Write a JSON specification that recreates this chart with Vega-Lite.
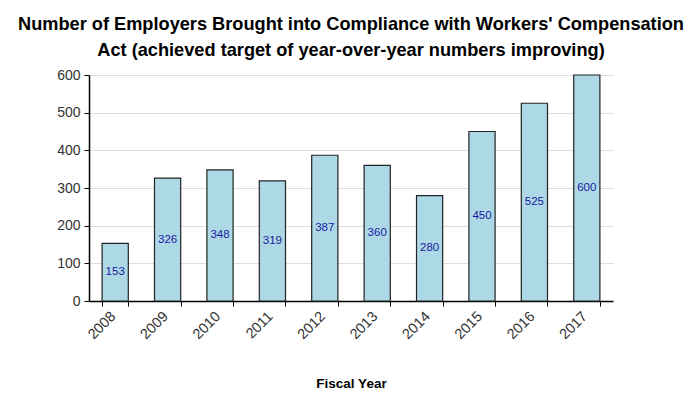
{
  "$schema": "https://vega.github.io/schema/vega-lite/v6.json",
  "width": 524,
  "height": 226,
  "autosize": {"type": "none"},
  "padding": {"left": 89, "top": 75, "right": 83, "bottom": 99},
  "background": "white",
  "title": {
    "text": ["Number of Employers Brought into Compliance with Workers' Compensation", "Act (achieved target of year-over-year numbers improving)"],
    "font": "Liberation Sans",
    "fontSize": 18.2,
    "fontWeight": "bold",
    "color": "black",
    "lineHeight": 26,
    "offset": 8,
    "anchor": "middle"
  },
  "data": {
    "values": [
      {"year": "2008", "value": 153},
      {"year": "2009", "value": 326},
      {"year": "2010", "value": 348},
      {"year": "2011", "value": 319},
      {"year": "2012", "value": 387},
      {"year": "2013", "value": 360},
      {"year": "2014", "value": 280},
      {"year": "2015", "value": 450},
      {"year": "2016", "value": 525},
      {"year": "2017", "value": 600}
    ]
  },
  "config": {
    "view": {"stroke": null},
    "font": "Liberation Sans",
    "axisX": {
      "title": "Fiscal Year",
      "titleFont": "Liberation Sans",
      "titleFontSize": 13.5,
      "titleFontWeight": "bold",
      "titleColor": "black",
      "titlePadding": 35,
      "labelAngle": -45,
      "labelFontSize": 14.5,
      "labelColor": "#333333",
      "labelPadding": 3,
      "labelOffset": -7,
      "tickBand": "extent",
      "tickSize": 5,
      "tickColor": "#000000",
      "domainColor": "black",
      "domainWidth": 1.5,
      "zindex": 1
    },
    "axisY": {
      "title": null,
      "values": [0, 50, 100, 150, 200, 250, 300, 350, 400, 450, 500, 550, 600],
      "labelExpr": "datum.value % 100 == 0 ? datum.label : ''",
      "labelOverlap": false,
      "labelFontSize": 14,
      "labelColor": "#333333",
      "labelPadding": 4,
      "tickSize": 5,
      "tickColor": "#000000",
      "domainColor": "black",
      "domainWidth": 1.5,
      "grid": true,
      "gridColor": "#dddddd",
      "zindex": 0
    }
  },
  "encoding": {
    "x": {
      "field": "year",
      "type": "nominal",
      "title": "Fiscal Year",
      "scale": {"paddingInner": 0.5, "paddingOuter": 0.25}
    }
  },
  "layer": [
    {
      "mark": {"type": "bar", "fill": "#add8e6", "stroke": "#222222", "strokeWidth": 1.2},
      "encoding": {
        "y": {
          "field": "value",
          "type": "quantitative",
          "scale": {"domain": [0, 600], "nice": false},
          "axis": {
            "gridOpacity": {"condition": {"test": "datum.value % 100 == 0", "value": 1}, "value": 0}
          }
        }
      }
    },
    {
      "transform": [{"calculate": "datum.value / 2", "as": "mid"}],
      "mark": {"type": "text", "color": "#1a1aa0", "fontSize": 11.5, "baseline": "middle"},
      "encoding": {
        "y": {"field": "mid", "type": "quantitative",
          "axis": {
            "gridOpacity": {"condition": {"test": "datum.value % 100 == 0", "value": 1}, "value": 0}
          }},
        "text": {"field": "value", "type": "quantitative"}
      }
    }
  ]
}
